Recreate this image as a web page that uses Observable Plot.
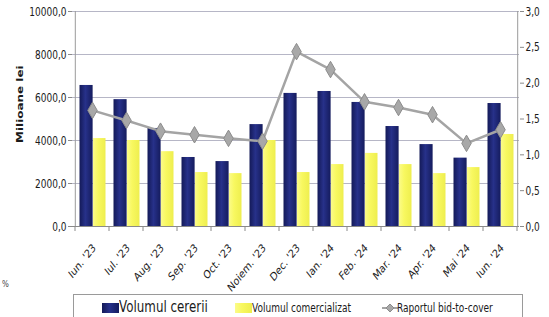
<!DOCTYPE html>
<html>
<head>
<meta charset="utf-8">
<script src="https://cdn.jsdelivr.net/npm/d3@7"></script>
<script src="https://cdn.jsdelivr.net/npm/@observablehq/plot@0.6"></script>
<style>
  body { margin: 0; background: #fff; }
  #wrap { position: relative; width: 549px; height: 317px; overflow: hidden; font-family: "DejaVu Sans", sans-serif; }
  #chart svg text { font-family: "DejaVu Sans", sans-serif; }
  #legend { position: absolute; left: 73px; top: 294px; width: 450px; height: 26px; border: 1px solid #9a9a9a; box-sizing: border-box; background: #fff; }
  .it { position: absolute; white-space: nowrap; color: #1a1a1a; line-height: 1; transform: scaleX(0.72); transform-origin: 0 0; }
  .sw { position: absolute; }
  #pct { position: absolute; left: 2px; top: 279px; font-size: 9px; color: #444; transform: scaleX(0.8); transform-origin: 0 0; }
</style>
</head>
<body>
<div id="wrap">
  <div id="chart"></div>
  <div id="pct">%</div>
  <div id="legend"></div>
</div>
<script>
const months = ["Iun. '23", "Iul. '23", "Aug. '23", "Sep. '23", "Oct. '23", "Noiem. '23", "Dec. '23", "Ian. '24", "Feb. '24", "Mar. '24", "Apr. '24", "Mai '24", "Iun. '24"];
const cereri = [6560, 5900, 4560, 3210, 3020, 4740, 6190, 6280, 5770, 4650, 3810, 3180, 5720];
const comercializat = [4090, 4000, 3480, 2510, 2460, 4000, 2510, 2880, 3400, 2880, 2460, 2740, 4280];
const bidToCover = [1.62, 1.48, 1.33, 1.28, 1.23, 1.19, 2.44, 2.19, 1.74, 1.66, 1.56, 1.16, 1.35];
const leftTicks = [0, 2000, 4000, 6000, 8000, 10000];
const rightTicks = [0, 0.5, 1, 1.5, 2, 2.5, 3];
const seriesNames = ["Volumul cererii", "Volumul comercializat", "Raportul bid-to-cover"];
const yTitle = "Milioane lei";

const yMax = 10000, rMax = 3;
const toY = r => r * yMax / rMax;
const fmt = v => v.toFixed(1).replace(".", ",");
const K = 0.72;   // horizontal squeeze of axis text
const KM = 0.8;   // horizontal squeeze of month labels

const rows = months.map((m, i) => ({m, c: cereri[i], v: comercializat[i], r: bidToCover[i]}));

const W = 549, H = 317, mL = 72, mR = 30, mT = 11, mB = 91;
const bw = (W - mL - mR) / months.length;

const defs = () => {
  const d = d3.create("svg:defs");
  const g1 = d.append("linearGradient").attr("id", "navy").attr("x1", 0).attr("x2", 1).attr("y1", 0).attr("y2", 0);
  [["0%", "#141a58"], ["45%", "#27318a"], ["100%", "#151c5e"]].forEach(([o, c]) => g1.append("stop").attr("offset", o).attr("stop-color", c));
  const g2 = d.append("linearGradient").attr("id", "yel").attr("x1", 0).attr("x2", 1).attr("y1", 0).attr("y2", 0);
  [["0%", "#fbfb8a"], ["40%", "#f8f860"], ["100%", "#eeee4e"]].forEach(([o, c]) => g2.append("stop").attr("offset", o).attr("stop-color", c));
  return d.node();
};

const boundaryTicks = (index, scales) => {
  const g = d3.create("svg:g");
  const y0 = scales.y(0);
  const xs = months.map(m => scales.x(m)).concat([scales.x(months[months.length - 1]) + scales.x.bandwidth()]);
  g.selectAll("line").data(xs).join("line")
    .attr("x1", d => d).attr("x2", d => d)
    .attr("y1", y0).attr("y2", y0 + 5)
    .attr("stroke", "#8a8a8a");
  return g.node();
};

const chart = Plot.plot({
  width: W, height: H,
  marginLeft: mL, marginRight: mR, marginTop: mT, marginBottom: mB,
  style: {color: "#222", background: "transparent"},
  x: {domain: months, padding: 0, axis: null},
  y: {domain: [0, yMax]},
  marks: [
    defs,
    Plot.gridY(leftTicks, {stroke: "#b6b6c6", strokeOpacity: 1}),
    Plot.barY(rows, {x: "m", y: "c", fill: "url(#navy)", insetLeft: 4.5, insetRight: bw - 18}),
    Plot.barY(rows, {x: "m", y: "v", fill: "url(#yel)", insetLeft: 18, insetRight: 3.5}),
    Plot.ruleY([0], {stroke: "#8a8a8a"}),
    Plot.ruleX([months[0]], {dx: -bw / 2, stroke: "#9a9a9a"}),
    Plot.ruleX([months[months.length - 1]], {dx: bw / 2, stroke: "#9a9a9a"}),
    Plot.line(rows, {x: "m", y: d => toY(d.r), stroke: "#a4a4a4", strokeWidth: 2.5}),
    Plot.dot(rows, {x: "m", y: d => toY(d.r), symbol: "diamond", r: 5, fill: "#a8a8a8", stroke: "#8c8c8c", strokeWidth: 1}),
    boundaryTicks,
    Plot.text(months, {x: d => d, frameAnchor: "bottom", rotate: -45, textAnchor: "end", lineAnchor: "bottom", dx: 4, dy: 22, fontSize: 11.5, fill: "#1a1a1a"}),
    Plot.axisY(leftTicks, {anchor: "left", tickFormat: fmt, tickSize: 4, tickPadding: 2, fontSize: 12.5, stroke: "#8a8a8a", fill: "#1a1a1a", label: null}),
    Plot.axisY(rightTicks.map(toY), {anchor: "right", tickFormat: d => fmt(d * rMax / yMax), tickSize: 4, tickPadding: 2, fontSize: 12.5, stroke: "#8a8a8a", fill: "#1a1a1a", label: null}),
    Plot.text([yTitle], {frameAnchor: "left", dx: -52, dy: 24, rotate: -90, fontSize: 12, fontWeight: "bold", fill: "#1a1a1a"})
  ]
});
document.getElementById("chart").appendChild(chart);
// squeeze text horizontally (global x-compression around each text's anchor)
d3.select(chart).selectAll("text").each(function() {
  const isMonth = months.includes(this.textContent);
  const k = isMonth ? KM : K;
  const t = this.getAttribute("transform") || "";
  if (t.includes("rotate(")) this.setAttribute("transform", t.replace("rotate(", `scale(${k},1) rotate(`));
  else this.setAttribute("transform", (t + ` scale(${k},1)`).trim());
});

const legend = document.getElementById("legend");
const items = [
  {sw: {left: 28, top: 8, width: 17, height: 10, background: "linear-gradient(90deg,#141a58,#27318a 45%,#151c5e)"}, text: seriesNames[0], left: 45, size: 16.5, top: 4},
  {sw: {left: 161, top: 8, width: 17, height: 10, background: "linear-gradient(90deg,#fbfb8a,#f8f860 40%,#eeee4e)"}, text: seriesNames[1], left: 178, size: 12.5, top: 6.5},
  {line: true, left: 308, text: seriesNames[2], tleft: 323, size: 12.5, top: 6.5}
];
items.forEach(it => {
  if (it.line) {
    const s = document.createElementNS("http://www.w3.org/2000/svg", "svg");
    s.setAttribute("width", 16); s.setAttribute("height", 22);
    s.style.position = "absolute"; s.style.left = it.left + "px"; s.style.top = "2px";
    s.innerHTML = '<line x1="0" y1="11" x2="16" y2="11" stroke="#a4a4a4" stroke-width="2"/><path d="M8,7L12,11L8,15L4,11Z" fill="#a8a8a8" stroke="#8c8c8c"/>';
    legend.appendChild(s);
    const t = document.createElement("div");
    t.className = "it"; t.textContent = it.text; t.style.left = it.tleft + "px"; t.style.fontSize = it.size + "px"; t.style.top = it.top + "px";
    legend.appendChild(t);
  } else {
    const sw = document.createElement("div");
    sw.className = "sw";
    Object.entries(it.sw).forEach(([k, v]) => sw.style[k] = typeof v === "number" ? v + "px" : v);
    legend.appendChild(sw);
    const t = document.createElement("div");
    t.className = "it"; t.textContent = it.text; t.style.left = it.left + "px"; t.style.fontSize = it.size + "px"; t.style.top = it.top + "px";
    legend.appendChild(t);
  }
});
</script>
</body>
</html>
